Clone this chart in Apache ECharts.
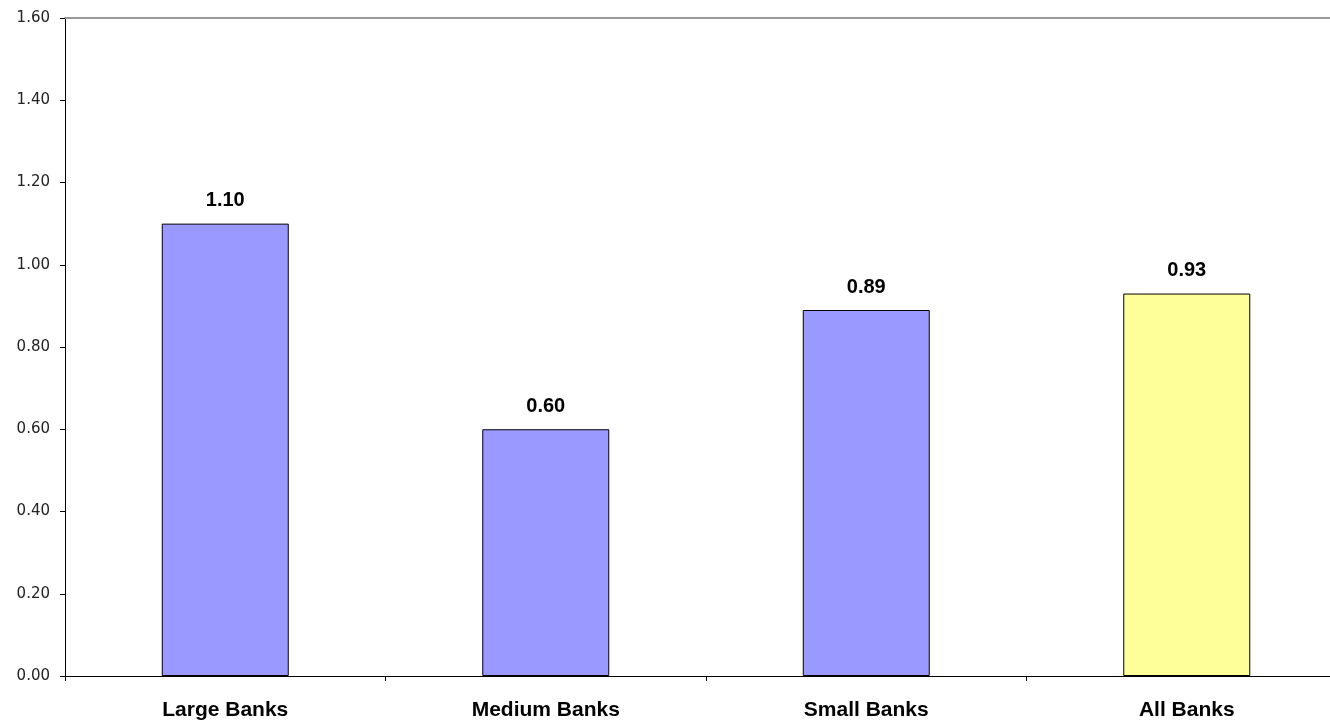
<!DOCTYPE html>
<html>
<head>
<meta charset="utf-8">
<script src="https://cdn.jsdelivr.net/npm/echarts@6/dist/echarts.min.js"></script>
<style>html,body{margin:0;padding:0;background:#fff;overflow:hidden;width:1330px;height:721px;}#c{width:1347px;height:721px;}</style>
</head>
<body>
<div id="c"></div>
<script>
const categories = ["Large Banks", "Medium Banks", "Small Banks", "All Banks"];
const values = [1.10, 0.60, 0.89, 0.93];
const barColors = ["#9999FF", "#9999FF", "#9999FF", "#FFFF99"];
const yTicks = [0, 0.2, 0.4, 0.6, 0.8, 1.0, 1.2, 1.4, 1.6];

const chart = echarts.init(document.getElementById('c'), null, {renderer: 'canvas', width: 1347, height: 721});
chart.setOption({
  animation: false,
  backgroundColor: '#ffffff',
  grid: {left: 65, top: 18, right: 0, bottom: 44, containLabel: false},
  xAxis: [{
    type: 'category',
    data: categories,
    position: 'bottom',
    axisLine: {lineStyle: {color: '#000', width: 1}},
    axisTick: {show: true, length: 5, lineStyle: {color: '#000'}},
    axisLabel: {color: '#000', fontFamily: 'Liberation Sans, Arial, sans-serif', fontWeight: 'bold', fontSize: 21, margin: 24}
  }, {
    type: 'category',
    data: categories,
    position: 'top',
    axisLine: {lineStyle: {color: '#999', width: 2}},
    axisTick: {show: false},
    axisLabel: {show: false}
  }],
  yAxis: {
    type: 'value',
    min: 0, max: 1.6, interval: 0.2,
    axisLine: {show: true, lineStyle: {color: '#000', width: 1}},
    axisTick: {show: true, length: 5, lineStyle: {color: '#000'}},
    splitLine: {show: false},
    axisLabel: {
      color: '#222', fontFamily: 'DejaVu Sans, sans-serif', fontSize: 15, margin: 15,
      formatter: v => v.toFixed(2)
    }
  },
  series: [{
    type: 'bar',
    xAxisIndex: 0,
    barWidth: 127,
    data: values.map((v, i) => ({value: v, itemStyle: {color: barColors[i]}})),
    itemStyle: {borderColor: '#000', borderWidth: 1},
    label: {
      show: true, position: 'top', distance: 13,
      color: '#000', fontFamily: 'Liberation Sans, Arial, sans-serif', fontWeight: 'bold', fontSize: 20,
      formatter: p => p.value.toFixed(2)
    }
  }]
});
</script>
</body>
</html>
